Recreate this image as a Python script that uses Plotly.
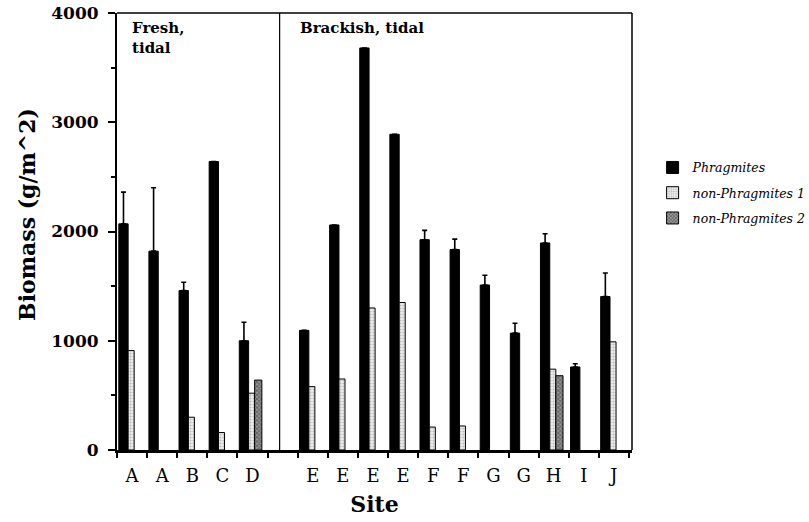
import plotly.graph_objects as go

sites = ["A", "A", "B", "C", "D", "", "E", "E", "E", "E", "F", "F", "G", "G", "H", "I", "J"]
phragmites = [2070, 1820, 1460, 2640, 1000, None, 1095, 2060, 3680, 2890, 1925, 1835, 1510, 1070, 1895, 760, 1405]
phragmites_err = [290, 580, 75, 0, 170, None, 0, 0, 0, 0, 85, 95, 90, 90, 85, 30, 215]
non_phrag_1 = [910, None, 300, 160, 520, None, 580, 650, 1300, 1350, 210, 220, None, None, 740, None, 990]
non_phrag_2 = [None, None, None, None, 640, None, None, None, None, None, None, None, None, None, 680, None, None]
y_ticks = [0, 1000, 2000, 3000, 4000]

x = list(range(len(sites)))
SERIF = "DejaVu Serif"

fig = go.Figure()
fig.add_trace(go.Bar(
    x=x, y=phragmites, name="Phragmites", legendgroup="p",
    width=0.31, offset=-0.44,
    marker=dict(color="black", line=dict(color="black", width=1)),
    error_y=dict(type="data", array=phragmites_err, arrayminus=[0] * len(x),
                 symmetric=False, color="black", thickness=1.6, width=2.5),
))
fig.add_trace(go.Bar(
    x=x, y=non_phrag_1, name="non-Phragmites 1", legendgroup="n1",
    width=0.20, offset=-0.13,
    marker=dict(color="#e6e6e6", line=dict(color="black", width=1),
                pattern=dict(shape=".", fgcolor="#8a8a8a", bgcolor="#eeeeee", size=3, solidity=0.4)),
))
fig.add_trace(go.Bar(
    x=x, y=non_phrag_2, name="non-Phragmites 2", legendgroup="n2",
    width=0.24, offset=0.07,
    marker=dict(color="#555555", line=dict(color="black", width=1),
                pattern=dict(shape="x", fgcolor="#222222", bgcolor="#9a9a9a", size=3, solidity=0.5)),
))

fig.update_layout(
    width=809, height=522,
    margin=dict(l=117, r=177, t=13, b=72, autoexpand=False),
    paper_bgcolor="white", plot_bgcolor="white",
    barmode="overlay",
    showlegend=True,
    legend=dict(x=1.04, y=0.68, xanchor="left", yanchor="top",
                font=dict(family=SERIF, size=12.5, color="black", style="italic"),
                bgcolor="rgba(0,0,0,0)", itemwidth=30, traceorder="grouped", tracegroupgap=6),
    xaxis=dict(
        range=[-0.5, 16.6], tickmode="array", tickvals=x, ticktext=sites,
        ticks="", showgrid=False, zeroline=False, ticklabelstandoff=8,
        showline=True, linecolor="black", linewidth=2.5,
        tickfont=dict(family=SERIF, size=18, color="black"),
        minor=dict(tickmode="array", tickvals=[i - 0.5 for i in range(len(sites) + 1)],
                   ticks="outside", ticklen=5, tickwidth=1.5, tickcolor="black", showgrid=False),
        title=dict(text="<b>Site</b>", font=dict(family=SERIF, size=22, color="black"), standoff=12),
    ),
    yaxis=dict(
        range=[0, 4000], tickmode="array", tickvals=y_ticks,
        ticktext=[f"<b>{v}</b>" for v in y_ticks],
        ticks="outside", ticklen=7, tickwidth=2, tickcolor="black",
        showgrid=False, zeroline=False, ticklabelstandoff=6, ticklabeloverflow="allow",
        showline=True, linecolor="black", linewidth=2,
        tickfont=dict(family=SERIF, size=17, color="black"),
        minor=dict(dtick=500, ticks="outside", ticklen=4, tickwidth=1.5, tickcolor="black", showgrid=False),
    ),
    shapes=[
        dict(type="line", xref="x", yref="y", x0=4.9, x1=4.9, y0=0, y1=4000,
             line=dict(color="black", width=1.2)),
        dict(type="line", xref="paper", yref="paper", x0=0, x1=1, y0=1, y1=1,
             line=dict(color="black", width=1.5)),
        dict(type="line", xref="paper", yref="paper", x0=1, x1=1, y0=0, y1=1,
             line=dict(color="black", width=1.5)),
    ],
    annotations=[
        dict(text="<b>Biomass (g/m^2)</b>", xref="paper", yref="paper", x=-0.175, y=0.54,
             xanchor="center", yanchor="middle", textangle=-90, showarrow=False,
             font=dict(family=SERIF, size=22, color="black")),
        dict(text="<b>Fresh,<br>tidal</b>", xref="x", yref="y", x=-0.07, y=3960,
             xanchor="left", yanchor="top", align="left", showarrow=False,
             font=dict(family=SERIF, size=15, color="black")),
        dict(text="<b>Brackish, tidal</b>", xref="x", yref="y", x=5.5, y=3960,
             xanchor="left", yanchor="top", align="left", showarrow=False,
             font=dict(family=SERIF, size=15, color="black")),
    ],
)

fig.write_html("out.html", config={"displayModeBar": False},
               post_script="document.body.style.margin='0px';")
